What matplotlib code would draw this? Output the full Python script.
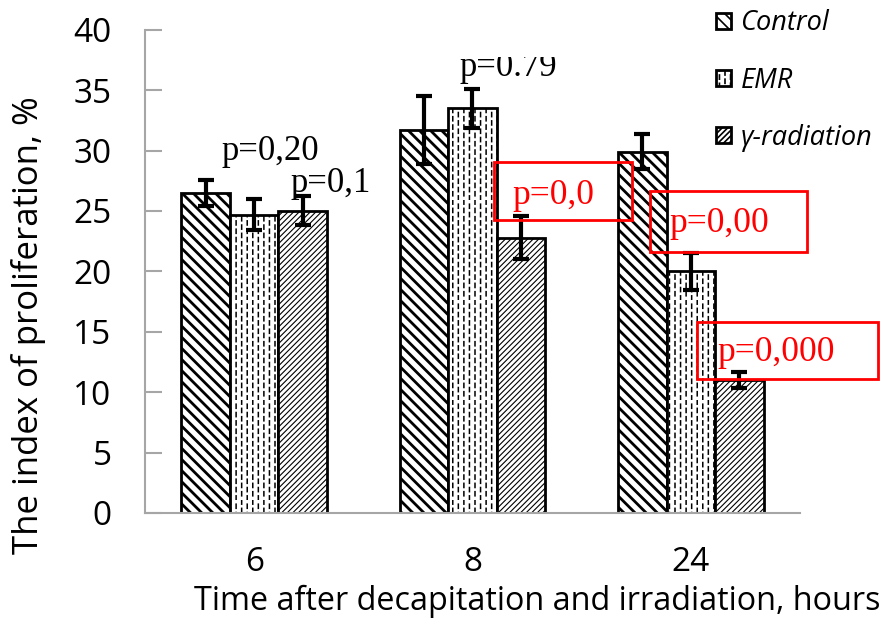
import numpy as np
import matplotlib.pyplot as plt
import matplotlib.hatch as mhatch
from matplotlib.path import Path
from matplotlib.patches import Rectangle


# staggered vertical dashes for the EMR bars (replaces the plain '|' hatch)
class DashedVertical(mhatch.HatchPatternBase):
    def __init__(self, hatch, density):
        self.num_cols = int(hatch.count('|') * density)
        self.num_dash = 12
        self.num_vertices = self.num_cols * self.num_dash * 2

    def set_vertices_and_codes(self, vertices, codes):
        xs = (np.arange(self.num_cols) + 0.5) / self.num_cols
        i = 0
        for c, xv in enumerate(xs):
            off = 0.5 * (c % 2)
            for k in range(self.num_dash):
                y0 = (k + off) / self.num_dash
                vertices[i] = (xv, y0)
                vertices[i + 1] = (xv, y0 + 0.5 / self.num_dash)
                codes[i] = Path.MOVETO
                codes[i + 1] = Path.LINETO
                i += 2


mhatch._hatch_types[1] = DashedVertical

# data
hours = ['6', '8', '24']
groups = ['Control', 'EMR', 'γ-radiation']
control = [26.5, 31.7, 29.9]
control_err = [1.1, 2.8, 1.45]
emr = [24.7, 33.5, 20.0]
emr_err = [1.3, 1.6, 1.55]
gamma = [25.0, 22.8, 11.0]
gamma_err = [1.2, 1.8, 0.65]

fig = plt.figure(figsize=(8.83, 6.21), dpi=100)
ax = fig.add_axes([0.1642, 0.174, 0.7418, 0.778])

x = np.arange(len(hours))
w = 0.222
series = [(control, control_err, '\\\\\\', 2.0),
          (emr, emr_err, '|||', 1.1),
          (gamma, gamma_err, '//////', 0.8)]
for i, (vals, errs, hatch, hlw) in enumerate(series):
    plt.rcParams['hatch.linewidth'] = hlw
    ax.bar(x + (i - 1) * w, vals, w, color='white', edgecolor='black',
           linewidth=2, hatch=hatch, label=groups[i], zorder=2)
    ax.errorbar(x + (i - 1) * w, vals, yerr=errs, fmt='none', ecolor='black',
                elinewidth=3, capsize=5.5, capthick=3, zorder=3)

ax.set_xlim(-0.5, 2.5)
ax.set_ylim(0, 40)
ax.set_yticks(range(0, 41, 5))
ax.set_xticks(x)
ax.set_xticklabels(hours)
ax.tick_params(axis='y', direction='in', length=12, width=1.5, color='#a6a6a6',
               labelsize=24, pad=24)
ax.tick_params(axis='x', length=0, labelsize=24, pad=24)
for t in ax.get_xticklabels() + ax.get_yticklabels():
    t.set_family('Open Sans')
for s in ['top', 'right']:
    ax.spines[s].set_visible(False)
for s in ['left', 'bottom']:
    ax.spines[s].set_color('#a6a6a6')
    ax.spines[s].set_linewidth(1.5)

fig.text(0.032, 0.477, 'The index of proliferation, %', family='Open Sans',
         fontsize=25, rotation=90, ha='center', va='center')
fig.text(0.997, 0.032, 'Time after decapitation and irradiation, hours',
         family='Open Sans', fontsize=23.3, ha='right', va='center')

# p-value annotations
serif = 'Liberation Serif'
ax.text(0.0725, 29.9, 'p=0,20', family=serif, fontsize=25, ha='center', va='center')
ax.text(0.352, 27.3, 'p=0,1', family=serif, fontsize=25, ha='center', va='center')
t79 = ax.text(1.162, 36.85, 'p=0.79', family=serif, fontsize=25, ha='center', va='center')
t79.set_clip_path(Rectangle((0, 0), 1, 1 - 57 / 621, transform=fig.transFigure))
t79.set_clip_on(True)

red_texts = [(1.369, 26.25, 'p=0,0'), (2.129, 24.0, 'p=0,00'), (2.39, 13.3, 'p=0,000')]
red_boxes = [(1.098, 24.27, 0.633, 4.8), (1.813, 21.6, 0.719, 5.07), (2.028, 11.1, 0.829, 4.7)]
for (tx, ty, s), (bx, by, bw, bh) in zip(red_texts, red_boxes):
    ax.text(tx, ty, s, family=serif, fontsize=25.5, color='red', ha='center',
            va='center', zorder=5, clip_on=False)
    ax.add_patch(Rectangle((bx, by), bw, bh, facecolor='none', edgecolor='red',
                           linewidth=2, zorder=5, clip_on=False))

plt.rcParams['hatch.linewidth'] = 1.2
ax.legend(loc='upper left', bbox_to_anchor=(0.811, 0.985),
          bbox_transform=fig.transFigure, frameon=False,
          prop={'family': 'Open Sans', 'style': 'italic', 'size': 19.5},
          handlelength=0.55, handleheight=0.55, labelspacing=1.08,
          handletextpad=0.35, borderpad=0, borderaxespad=0)

plt.savefig('out.png')
